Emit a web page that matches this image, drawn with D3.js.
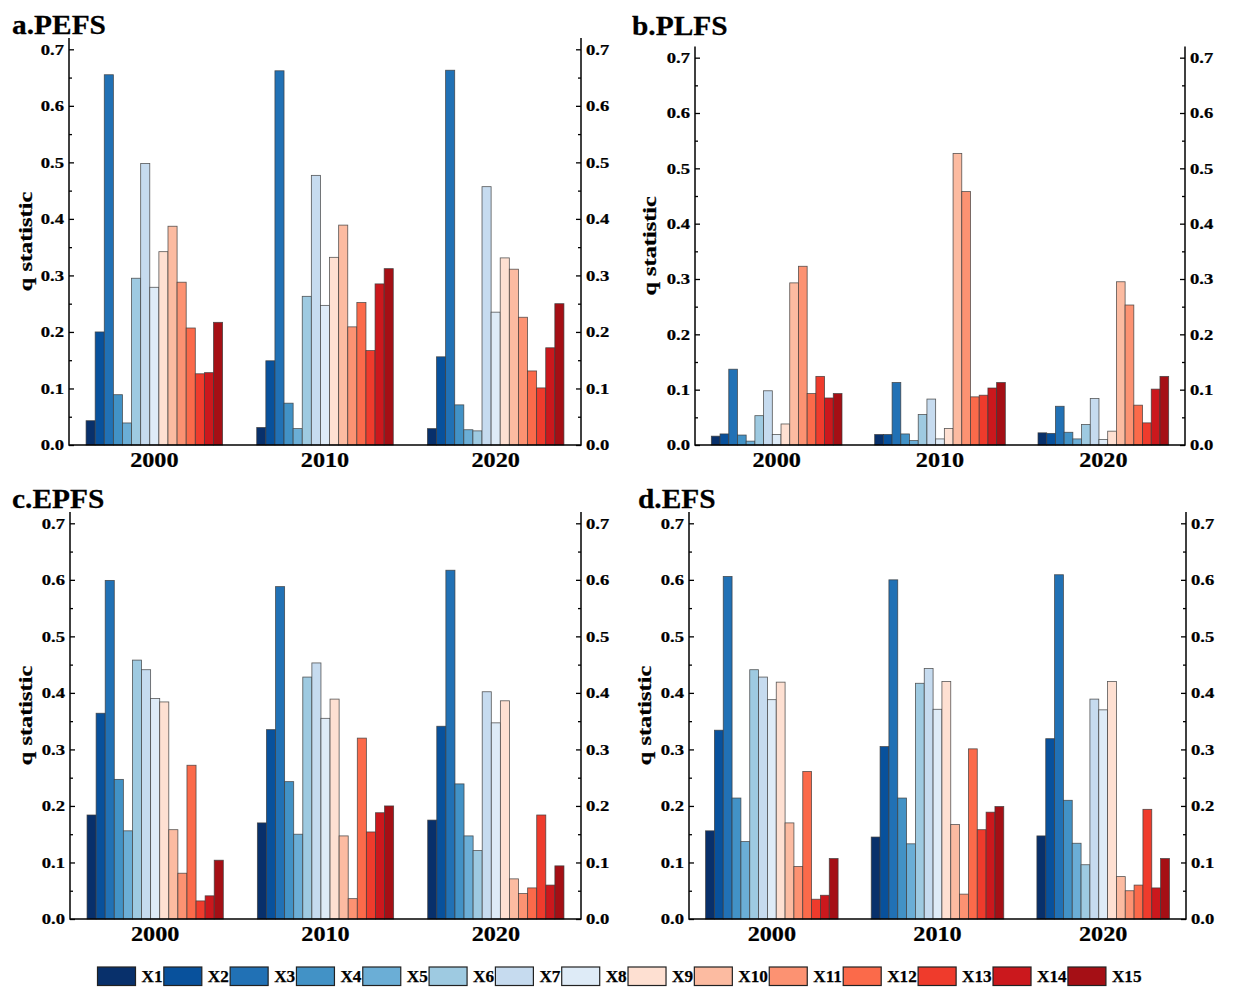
<!DOCTYPE html>
<html>
<head>
<meta charset="utf-8">
<script src="https://cdn.jsdelivr.net/npm/d3@7"></script>
<style>
  html, body { margin: 0; padding: 0; background: #fff; }
  svg { display: block; font-family: "Liberation Serif", "Times New Roman", serif; font-weight: bold; }
  svg text { stroke: #000; stroke-width: 0.25px; }
</style>
</head>
<body>
<svg id="chart" width="1234" height="988"></svg>
<script>
// ---- data (q statistic per factor) ----
const FACTORS = ['X1', 'X2', 'X3', 'X4', 'X5', 'X6', 'X7', 'X8', 'X9', 'X10', 'X11', 'X12', 'X13', 'X14', 'X15'];
const YEARS = ['2000', '2010', '2020'];
const Y_TICKS = [0, 0.1, 0.2, 0.3, 0.4, 0.5, 0.6, 0.7];
const Y_MINOR = [0.05, 0.15, 0.25, 0.35, 0.45, 0.55, 0.65];
const COLORS = [
  '#08306b', '#08519c', '#2171b5', '#4292c6', '#6baed6', '#9ecae1', '#c6dbef', '#deebf7',
  '#fee0d2', '#fcbba1', '#fc9272', '#fb6a4a', '#ef3b2c', '#cb181d', '#a50f15',
];

const PEFS_2000 = [0.043, 0.200, 0.655, 0.089, 0.039, 0.295, 0.498, 0.279, 0.342, 0.387, 0.288, 0.207, 0.126, 0.128, 0.217];
const PEFS_2010 = [0.031, 0.149, 0.662, 0.074, 0.029, 0.263, 0.477, 0.247, 0.332, 0.389, 0.209, 0.252, 0.167, 0.285, 0.312];
const PEFS_2020 = [0.029, 0.156, 0.663, 0.071, 0.027, 0.025, 0.457, 0.235, 0.331, 0.311, 0.226, 0.131, 0.101, 0.172, 0.250];

const PLFS_2000 = [0.016, 0.020, 0.137, 0.018, 0.007, 0.053, 0.098, 0.019, 0.038, 0.293, 0.323, 0.093, 0.124, 0.085, 0.093];
const PLFS_2010 = [0.019, 0.019, 0.113, 0.020, 0.008, 0.055, 0.083, 0.011, 0.030, 0.527, 0.458, 0.087, 0.090, 0.103, 0.113];
const PLFS_2020 = [0.022, 0.021, 0.070, 0.023, 0.011, 0.037, 0.084, 0.010, 0.025, 0.295, 0.253, 0.072, 0.040, 0.101, 0.124];

const EPFS_2000 = [0.184, 0.364, 0.599, 0.247, 0.156, 0.458, 0.441, 0.390, 0.384, 0.158, 0.081, 0.272, 0.032, 0.041, 0.104];
const EPFS_2010 = [0.170, 0.335, 0.588, 0.243, 0.150, 0.428, 0.453, 0.355, 0.389, 0.147, 0.036, 0.320, 0.154, 0.188, 0.200];
const EPFS_2020 = [0.175, 0.341, 0.617, 0.239, 0.147, 0.121, 0.402, 0.347, 0.386, 0.071, 0.045, 0.055, 0.184, 0.060, 0.094];

const EFS_2000 = [0.156, 0.334, 0.606, 0.214, 0.137, 0.441, 0.428, 0.388, 0.419, 0.170, 0.093, 0.261, 0.035, 0.042, 0.107];
const EFS_2010 = [0.145, 0.305, 0.600, 0.214, 0.133, 0.417, 0.443, 0.371, 0.420, 0.167, 0.044, 0.301, 0.158, 0.189, 0.199];
const EFS_2020 = [0.147, 0.319, 0.609, 0.210, 0.134, 0.096, 0.389, 0.370, 0.420, 0.075, 0.050, 0.060, 0.194, 0.055, 0.107];

// ---- layout ----
const PANELS = [
  { title: 'a.PEFS', series: [PEFS_2000, PEFS_2010, PEFS_2020], left: 69, right: 581, top: 38, bottom: 445, tx: 12, ty: 34, lx: 26 },
  { title: 'b.PLFS', series: [PLFS_2000, PLFS_2010, PLFS_2020], left: 695, right: 1185, top: 46.6, bottom: 445, tx: 632, ty: 35, lx: 650 },
  { title: 'c.EPFS', series: [EPFS_2000, EPFS_2010, EPFS_2020], left: 70, right: 581, top: 512, bottom: 919, tx: 12, ty: 508, lx: 26 },
  { title: 'd.EFS', series: [EFS_2000, EFS_2010, EFS_2020], left: 689, right: 1186, top: 512, bottom: 919, tx: 638, ty: 508, lx: 645 },
];
const Y_MAX = 0.72;

const svg = d3.select('#chart');

// widen text along its baseline (the figure's lettering is horizontally stretched)
function stretch(sel, s) {
  sel.each(function () {
    const t = d3.select(this);
    const x = +t.attr('x') || 0;
    t.attr('transform', `translate(${x},0) scale(${s},1) translate(${-x},0)`);
  });
}

function styleText(sel, size) {
  sel.attr('font-size', size).attr('font-weight', 'bold')
    .attr('font-family', '"Liberation Serif", serif').attr('fill', '#000');
}

PANELS.forEach((p) => {
  const g = svg.append('g');

  const x0 = d3.scaleBand().domain(YEARS).range([p.left, p.right]).paddingInner(0.2).paddingOuter(0.1);
  const x1 = d3.scaleBand().domain(FACTORS).range([0, x0.bandwidth()]).padding(0);
  const y = d3.scaleLinear().domain([0, Y_MAX]).range([p.bottom, p.top]);

  // bars
  const groups = g.selectAll('g.year')
    .data(YEARS.map((yr, i) => ({ yr, vals: p.series[i] })))
    .join('g')
    .attr('class', 'year')
    .attr('transform', (d) => `translate(${x0(d.yr)},0)`);

  groups.selectAll('rect')
    .data((d) => d.vals.map((v, j) => ({ f: FACTORS[j], v, c: COLORS[j] })))
    .join('rect')
    .attr('x', (d) => x1(d.f))
    .attr('y', (d) => y(d.v))
    .attr('width', x1.bandwidth())
    .attr('height', (d) => y(0) - y(d.v))
    .attr('fill', (d) => d.c)
    .attr('stroke', '#3c3c3c')
    .attr('stroke-opacity', 0.85)
    .attr('stroke-width', 0.8);

  // left axis: ticks point inward, labels outside
  const axL = g.append('g').attr('transform', `translate(${p.left},0)`);
  axL.call(d3.axisLeft(y).tickValues(Y_TICKS).tickFormat(d3.format('.1f')).tickSize(-5).tickPadding(5).tickSizeOuter(0));
  g.append('g').attr('class', 'minor').attr('transform', `translate(${p.left},0)`)
    .call(d3.axisLeft(y).tickValues(Y_MINOR).tickFormat('').tickSize(-3).tickSizeOuter(0));

  // right axis
  const axR = g.append('g').attr('transform', `translate(${p.right},0)`);
  axR.call(d3.axisRight(y).tickValues(Y_TICKS).tickFormat(d3.format('.1f')).tickSize(-5).tickPadding(5).tickSizeOuter(0));
  g.append('g').attr('class', 'minor').attr('transform', `translate(${p.right},0)`)
    .call(d3.axisRight(y).tickValues(Y_MINOR).tickFormat('').tickSize(-3).tickSizeOuter(0));

  g.selectAll('.domain').remove();
  g.selectAll('.tick line').attr('stroke', '#000').attr('stroke-width', 1.3);
  [axL, axR].forEach((ax) => {
    styleText(ax.selectAll('text'), 15.5);
    stretch(ax.selectAll('text'), 1.2);
  });

  // axis lines
  g.append('line').attr('x1', p.left).attr('x2', p.left).attr('y1', p.top).attr('y2', p.bottom + 0.8)
    .attr('stroke', '#000').attr('stroke-width', 1.5);
  g.append('line').attr('x1', p.right).attr('x2', p.right).attr('y1', p.top).attr('y2', p.bottom + 0.8)
    .attr('stroke', '#000').attr('stroke-width', 1.5);
  g.append('line').attr('x1', p.left).attr('x2', p.right).attr('y1', p.bottom).attr('y2', p.bottom)
    .attr('stroke', '#000').attr('stroke-width', 1.6);

  // year labels
  const axB = g.append('g').attr('transform', `translate(0,${p.bottom})`);
  axB.call(d3.axisBottom(x0).tickSize(0).tickPadding(6));
  axB.selectAll('.domain').remove();
  styleText(axB.selectAll('text'), 22);
  stretch(axB.selectAll('text'), 1.1);

  // y title
  g.append('text')
    .attr('transform', `translate(${p.lx},${(p.top + p.bottom) / 2}) rotate(-90) scale(1.25,1)`)
    .attr('text-anchor', 'middle')
    .attr('dy', '0.3em')
    .attr('font-size', 19.5)
    .text('q statistic');

  // panel title
  g.append('text')
    .attr('transform', `translate(${p.tx},${p.ty}) scale(1.07,1)`)
    .attr('font-size', 27.5)
    .text(p.title);
});

// ---- legend ----
const legend = svg.append('g').attr('transform', 'translate(0,967)');
let lx = 97.5;
FACTORS.forEach((f, i) => {
  legend.append('rect')
    .attr('x', lx).attr('y', 0).attr('width', 38).attr('height', 18.5)
    .attr('fill', COLORS[i]).attr('stroke', '#222').attr('stroke-width', 1.2);
  const t = legend.append('text')
    .attr('x', lx + 44).attr('y', 15)
    .attr('font-size', 17.2)
    .text(f);
  lx += 44 + t.node().getComputedTextLength() + 1.3;
});
</script>
</body>
</html>
